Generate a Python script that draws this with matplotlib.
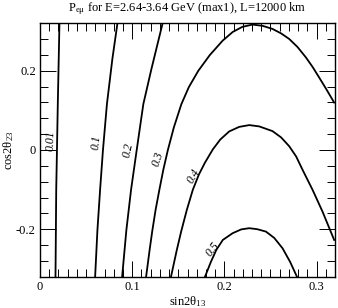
import matplotlib

matplotlib.use("Agg")
import matplotlib.pyplot as plt
from matplotlib.ticker import MultipleLocator, FuncFormatter


plt.rcParams["font.family"] = ["Liberation Serif", "DejaVu Serif"]
plt.rcParams["mathtext.fontset"] = "custom"
plt.rcParams["mathtext.rm"] = "Liberation Serif"
plt.rcParams["mathtext.it"] = "Liberation Serif:italic"
plt.rcParams["axes.unicode_minus"] = False

# contour lines of P_emu (sin2theta13, cos2theta23)
LEVEL_LABELS: list[str] = ["0.01", "0.1", "0.2", "0.3", "0.4", "0.5"]

x_001 = [0.0211, 0.0193, 0.0184, 0.0176, 0.0168]
y_001 = [0.32, 0.116, 0.0, -0.10, -0.32]

x_01 = [0.0840, 0.0785, 0.0726, 0.0683, 0.0652, 0.0623, 0.0598]
y_01 = [0.32, 0.230, 0.116, 0.0, -0.100, -0.202, -0.32]

x_02 = [0.1330, 0.1208, 0.1121, 0.1049, 0.0988, 0.0937, 0.0891]
y_02 = [0.32, 0.204, 0.116, 0.0, -0.100, -0.202, -0.32]

x_03 = [0.1151, 0.1189, 0.1218, 0.1254, 0.1295, 0.1338, 0.1387, 0.1452,
        0.1533, 0.1614, 0.1717, 0.1842, 0.1981, 0.2091, 0.2194, 0.2306,
        0.2416, 0.2522, 0.2616, 0.2703, 0.2793, 0.2884, 0.2958, 0.3028,
        0.3109, 0.3191]
y_03 = [-0.32, -0.2525, -0.2043, -0.151, -0.1003, -0.0495, 0.0, 0.0571,
        0.1155, 0.1586, 0.200, 0.2398, 0.2761, 0.2982, 0.3109, 0.3168,
        0.3135, 0.3058, 0.2944, 0.2805, 0.2602, 0.234, 0.2094, 0.1832,
        0.1523, 0.1198]

x_04 = [0.1421, 0.1484, 0.1531, 0.1593, 0.1658, 0.1723, 0.1788, 0.1874,
        0.1956, 0.2053, 0.2161, 0.2270, 0.2378, 0.2522, 0.2616, 0.2703,
        0.2779, 0.2847, 0.2956, 0.3064, 0.3191]
y_04 = [-0.32, -0.2525, -0.2061, -0.151, -0.1003, -0.0622, -0.0325, 0.0013,
        0.0266, 0.047, 0.0584, 0.0629, 0.0596, 0.0477, 0.0317, 0.0096,
        -0.0165, -0.0495, -0.1003, -0.1553, -0.2272]

x_05 = [0.1790, 0.1853, 0.1912, 0.1983, 0.2089, 0.2183, 0.2270, 0.2356,
        0.2451, 0.2541, 0.2631, 0.2714, 0.2787]
y_05 = [-0.32, -0.283, -0.2525, -0.2272, -0.2102, -0.2005, -0.1975, -0.200,
        -0.2061, -0.2221, -0.2482, -0.283, -0.32]

CONTOURS = [(x_001, y_001), (x_01, y_01), (x_02, y_02),
            (x_03, y_03), (x_04, y_04), (x_05, y_05)]

# where each level label sits and how it is turned
label_x = [0.0119, 0.0612, 0.0953, 0.1278, 0.1663, 0.1869]
label_y = [0.024, 0.019, -0.001, -0.022, -0.066, -0.250]
label_rot = [89, 84, 78, 72, 60, 52]

TITLE = r"P$_{\mathrm{e\mu}}$ for E=2.64-3.64 GeV (max1), L=12000 km"


def main() -> None:
    fig = plt.figure(figsize=(3.38, 3.08), dpi=100)
    ax = fig.add_axes([40 / 338, 1 - 276.7 / 308, 295 / 338, 253.4 / 308])

    for xs, ys in CONTOURS:
        ax.plot(xs, ys, color="black", lw=1.3, solid_joinstyle="round")

    for text, x, y, rot in zip(LEVEL_LABELS, label_x, label_y, label_rot):
        ax.text(x, y, text, rotation=rot, rotation_mode="anchor",
                ha="center", va="center", style="italic", fontsize=8.5)

    ax.set_xlim(0, 0.32)
    ax.set_ylim(-0.32, 0.32)

    ax.xaxis.set_major_locator(MultipleLocator(0.1))
    ax.xaxis.set_minor_locator(MultipleLocator(0.01))
    ax.yaxis.set_major_locator(MultipleLocator(0.2))
    ax.yaxis.set_minor_locator(MultipleLocator(0.04))
    fmt = FuncFormatter(lambda v, _: f"{v:g}" if abs(v) > 1e-9 else "0")
    ax.xaxis.set_major_formatter(fmt)
    ax.yaxis.set_major_formatter(fmt)

    ax.tick_params(which="both", direction="in", top=True, right=True,
                   width=0.7, labelsize=9, pad=3)
    ax.tick_params(which="major", length=11.5)
    ax.tick_params(which="minor", length=5.8)
    for spine in ax.spines.values():
        spine.set_linewidth(1.0)

    ax.set_xlabel(r"sin2θ$_{13}$", fontsize=9, labelpad=1)
    ax.set_ylabel(r"cos2θ$_{23}$", fontsize=9)
    ax.yaxis.set_label_coords(-0.083, 0.5)

    fig.text(0.555, 1 - 11.7 / 308, TITLE, ha="center", va="baseline",
             fontsize=9)

    fig.savefig("out.png", dpi=100)


if __name__ == "__main__":
    main()
